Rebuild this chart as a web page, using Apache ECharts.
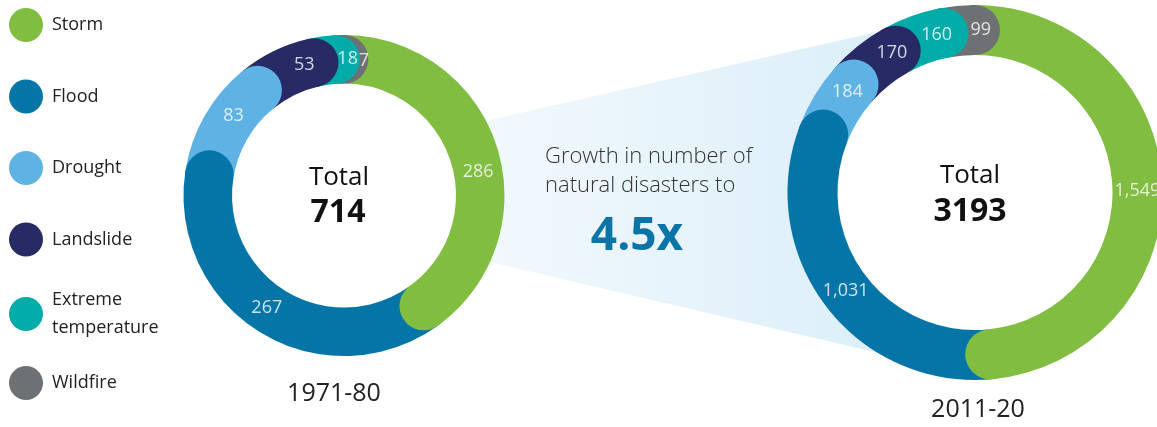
<!DOCTYPE html>
<html>
<head>
<meta charset="utf-8">
<script src="https://cdn.jsdelivr.net/npm/echarts@6/dist/echarts.min.js"></script>
<style>
html,body{margin:0;padding:0;background:#fff}
#main{width:1157px;height:427px}
</style>
</head>
<body>
<div id="main"></div>
<script>
// data
const categories = ['Storm', 'Flood', 'Drought', 'Landslide', 'Extreme temperature', 'Wildfire'];
const periods = ['1971-80', '2011-20'];
const values1971 = [286, 267, 83, 53, 18, 7];
const values2011 = [1549, 1031, 184, 170, 160, 99];
const growthText = ['Growth in number of', 'natural disasters to'];
const growthFactor = '4.5x';

const colors = ['#80bd41', '#0575a8', '#5eb3e4', '#272a65', '#00aba8', '#6e7173'];
const font = '"Open Sans", "Noto Sans", sans-serif';

// ring layout (label nudge is in degrees, clockwise)
const donuts = [
    {name: periods[0], values: values1971, center: [344, 195.5], radius: [112, 160.5], nudge: [8, 3, 6, 9, 9.6, 10.2]},
    {name: periods[1], values: values2011, center: [975, 192.5], radius: [137.5, 187.5], nudge: [2, 0, 7, 8, 6.5, 7.6]}
];

var series = [];
donuts.forEach(function (d, k) {
    var total = d.values.reduce((a, b) => a + b, 0);
    d.total = total;
    var cum = 0;
    var ends = [], labelPts = [];
    d.values.forEach(function (v, i) {
        labelPts.push([0, (cum + v / 2 + d.nudge[i] * total / 360) % total]);
        cum += v;
        ends.push(cum);
    });
    // arcs
    d.values.forEach(function (v, i) {
        series.push({
            type: 'bar', coordinateSystem: 'polar', polarIndex: k, stack: 'ring' + k,
            name: categories[i], data: [v], barWidth: '100%',
            itemStyle: {color: colors[i]}, z: 2, silent: true
        });
    });
    // round caps at the end of every arc
    d.values.forEach(function (v, i) {
        series.push({
            type: 'scatter', coordinateSystem: 'polar', polarIndex: k,
            name: categories[i], symbol: 'circle', symbolSize: d.radius[1] - d.radius[0],
            data: [[0, ends[i] % total]],
            itemStyle: {color: colors[i], opacity: 1}, z: 3 + (categories.length - i), silent: true
        });
    });
    // value labels
    series.push({
        type: 'scatter', coordinateSystem: 'polar', polarIndex: k, name: 'labels' + k,
        symbolSize: 0, itemStyle: {color: 'rgba(0,0,0,0)'}, data: labelPts, z: 20, silent: true,
        label: {
            show: true, position: 'inside', color: '#fff', fontSize: 18, fontFamily: font,
            formatter: p => d.values[p.dataIndex].toLocaleString('en-US')
        }
    });
});

// light band joining the two rings
function bandPoints() {
    var L = donuts[0], R = donuts[1];
    var topY = x => 120 - 0.227 * (x - 490);
    var botY = x => 262 + 0.234 * (x - 490);
    var lx = 462, rx = 930, pts = [], n = 24, s, a;
    var lMid = (L.radius[0] + L.radius[1]) / 2, rMid = (R.radius[0] + R.radius[1]) / 2;
    pts.push([lx, topY(lx)]);
    pts.push([rx, topY(rx)]);
    var a1 = Math.atan2(topY(rx) - R.center[1], rx - R.center[0]) + 2 * Math.PI;
    var a2 = Math.atan2(botY(rx) - R.center[1], rx - R.center[0]);
    for (s = 0; s <= n; s++) {
        a = a1 + (a2 - a1) * s / n;
        pts.push([R.center[0] + rMid * Math.cos(a), R.center[1] + rMid * Math.sin(a)]);
    }
    pts.push([rx, botY(rx)]);
    pts.push([lx, botY(lx)]);
    var b1 = Math.atan2(botY(lx) - L.center[1], lx - L.center[0]);
    var b2 = Math.atan2(topY(lx) - L.center[1], lx - L.center[0]);
    for (s = 0; s <= n; s++) {
        a = b1 + (b2 - b1) * s / n;
        pts.push([L.center[0] + lMid * Math.cos(a), L.center[1] + lMid * Math.sin(a)]);
    }
    return pts;
}

function txt(x, y, text, f, fill, align) {
    return {type: 'text', x: x, y: y, z: 100, silent: true,
        style: {text: text, font: f, fill: fill, align: align || 'center', verticalAlign: 'middle'}};
}

function legendAt(names, top, pad) {
    return {
        data: names, top: top, orient: 'vertical', left: 9, padding: 0,
        itemWidth: 34, itemHeight: 34, itemGap: 37.5,
        icon: 'circle', selectedMode: false,
        formatter: n => n.replace(' ', '\n'),
        textStyle: {fontFamily: font, fontSize: 18, color: '#222', lineHeight: 28, padding: pad || [0, 0, 0, 4]}
    };
}

var myChart = echarts.init(document.getElementById('main'));
myChart.setOption({
    animation: false,
    backgroundColor: '#fff',
    legend: [
        legendAt(categories.slice(0, 4), 8),
        legendAt(categories.slice(4, 5), 283, [6, 0, 0, 4]),
        legendAt(categories.slice(5), 366)
    ],
    polar: donuts.map(d => ({center: d.center, radius: d.radius})),
    angleAxis: donuts.map((d, k) => ({
        polarIndex: k, type: 'value', min: 0, max: d.total,
        startAngle: 90, clockwise: true, show: false
    })),
    radiusAxis: donuts.map((d, k) => ({polarIndex: k, type: 'category', data: [d.name], show: false})),
    series: series,
    graphic: [
        {type: 'polygon', z: 1, silent: true, shape: {points: bandPoints()},
            style: {fill: new echarts.graphic.LinearGradient(0, 0, 1, 0, [
                {offset: 0, color: '#f3f9fd'}, {offset: 1, color: '#d8edf8'}])}},
        txt(339, 178, 'Total', '400 26px ' + font, '#111'),
        txt(338, 213, String(donuts[0].total), '700 32px ' + font, '#111'),
        txt(970, 176, 'Total', '400 26px ' + font, '#111'),
        txt(970, 212, String(donuts[1].total), '700 32px ' + font, '#111'),
        txt(334, 394, periods[0], '400 25px ' + font, '#222'),
        txt(978, 410, periods[1], '400 25px ' + font, '#222'),
        txt(545, 157, growthText[0], '300 22px ' + font, '#333', 'left'),
        txt(545, 186, growthText[1], '300 22px ' + font, '#333', 'left'),
        txt(637, 237, growthFactor, '700 46px ' + font, '#0a74a7')
    ]
});
window.addEventListener('resize', function () {
    myChart.resize();
});
</script>
</body>
</html>
